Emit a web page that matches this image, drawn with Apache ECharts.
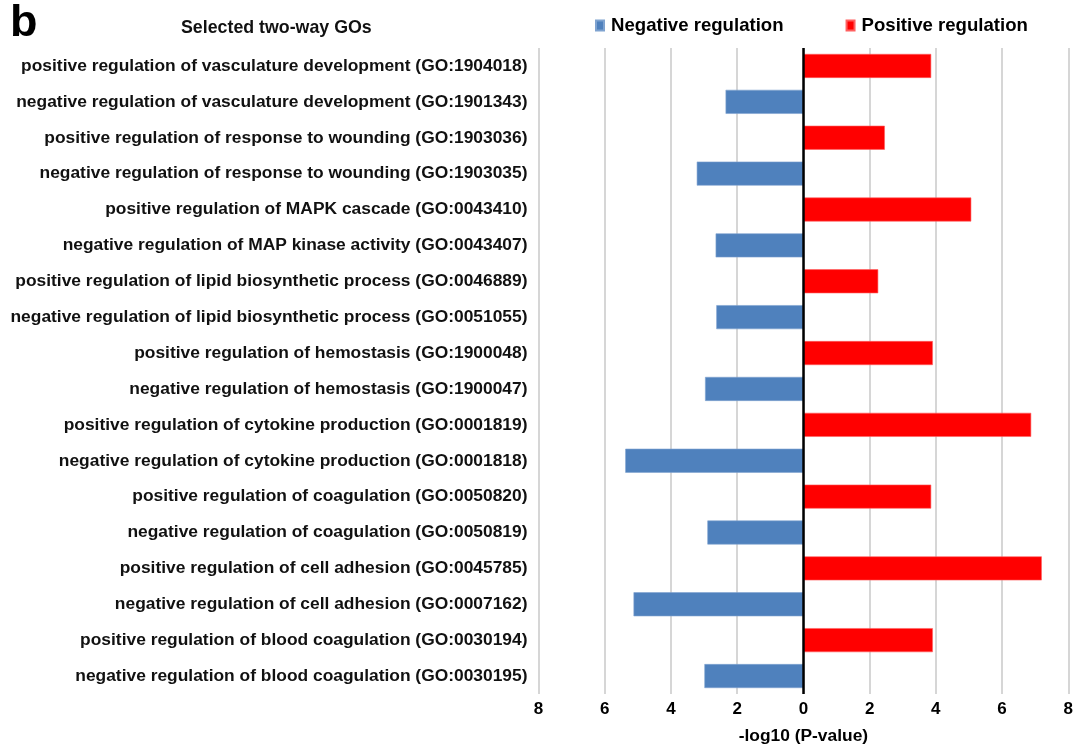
<!DOCTYPE html>
<html>
<head>
<meta charset="utf-8">
<script src="https://cdn.jsdelivr.net/npm/echarts@6/dist/echarts.min.js"></script>
<style>
  html, body { margin: 0; padding: 0; background: #fff; }
  #chart { width: 1076px; height: 750px; }
</style>
</head>
<body>
<div id="chart"></div>
<script>
// GO terms, listed top to bottom
const categories = [
  'positive regulation of vasculature development (GO:1904018)',
  'negative regulation of vasculature development (GO:1901343)',
  'positive regulation of response to wounding (GO:1903036)',
  'negative regulation of response to wounding (GO:1903035)',
  'positive regulation of MAPK cascade (GO:0043410)',
  'negative regulation of MAP kinase activity (GO:0043407)',
  'positive regulation of lipid biosynthetic process (GO:0046889)',
  'negative regulation of lipid biosynthetic process (GO:0051055)',
  'positive regulation of hemostasis (GO:1900048)',
  'negative regulation of hemostasis (GO:1900047)',
  'positive regulation of cytokine production (GO:0001819)',
  'negative regulation of cytokine production (GO:0001818)',
  'positive regulation of coagulation (GO:0050820)',
  'negative regulation of coagulation (GO:0050819)',
  'positive regulation of cell adhesion (GO:0045785)',
  'negative regulation of cell adhesion (GO:0007162)',
  'positive regulation of blood coagulation (GO:0030194)',
  'negative regulation of blood coagulation (GO:0030195)'
];

// -log10(P-value); negative regulation drawn to the left of zero
const negativeValues = [null, 2.35, null, 3.22, null, 2.65, null, 2.63, null, 2.97, null, 5.38, null, 2.90, null, 5.13, null, 2.99];
const positiveValues = [3.86, null, 2.46, null, 5.07, null, 2.26, null, 3.91, null, 6.88, null, 3.86, null, 7.20, null, 3.91, null];

const xTicks = { min: -8, max: 8, step: 2 };

const FONT = '"Liberation Sans", Arial, sans-serif';

const chart = echarts.init(document.getElementById('chart'));
chart.setOption({
  backgroundColor: '#ffffff',
  animation: false,
  title: [
    { text: 'b', left: 5, top: -4, textStyle: { fontFamily: FONT, fontSize: 45, fontWeight: 'bold', color: '#000' } },
    { text: 'Selected two-way GOs', left: 176, top: 14, textStyle: { fontFamily: FONT, fontSize: 17.8, fontWeight: 'bold', color: '#111' } }
  ],
  legend: {
    left: 595,
    top: 16,
    padding: 0,
    itemWidth: 8,
    itemHeight: 10,
    itemGap: 62,
    icon: 'rect',
    textStyle: { fontFamily: FONT, fontSize: 18.6, fontWeight: 'bold', color: '#000', padding: [0, 0, 0, 2] },
    data: ['Negative regulation', 'Positive regulation']
  },
  grid: { left: 538.5, right: 7, top: 48, bottom: 54, containLabel: false },
  xAxis: {
    type: 'value',
    min: xTicks.min,
    max: xTicks.max,
    interval: xTicks.step,
    axisLine: { show: false },
    axisTick: { show: false },
    splitLine: { show: true, lineStyle: { color: '#c8c8c8', width: 1.5 } },
    axisLabel: {
      margin: 7,
      fontFamily: FONT, fontSize: 17, fontWeight: 'bold', color: '#000',
      formatter: v => String(Math.abs(v))
    },
    name: '-log10 (P-value)',
    nameLocation: 'middle',
    nameGap: 34,
    nameTextStyle: { fontFamily: FONT, fontSize: 17.4, fontWeight: 'bold', color: '#000' }
  },
  yAxis: {
    type: 'category',
    inverse: true,
    data: categories,
    axisLine: { show: false },
    axisTick: { show: false },
    splitLine: { show: false },
    axisLabel: { margin: 11, fontFamily: FONT, fontSize: 17.4, fontWeight: 'bold', color: '#111' }
  },
  series: [
    {
      name: 'Negative regulation',
      type: 'bar',
      stack: 'go',
      barWidth: 24,
      itemStyle: { color: '#4F81BD', borderColor: '#7fa3d0', borderWidth: 0.6 },
      data: negativeValues.map(v => (v == null ? '-' : -v)),
      markLine: {
        silent: true,
        symbol: 'none',
        label: { show: false },
        lineStyle: { color: '#000', width: 2.5, type: 'solid' },
        data: [{ xAxis: 0 }]
      }
    },
    {
      name: 'Positive regulation',
      type: 'bar',
      stack: 'go',
      barWidth: 24,
      itemStyle: { color: '#FF0000', borderColor: '#ff6060', borderWidth: 0.6 },
      data: positiveValues.map(v => (v == null ? '-' : v))
    }
  ]
});
</script>
</body>
</html>
